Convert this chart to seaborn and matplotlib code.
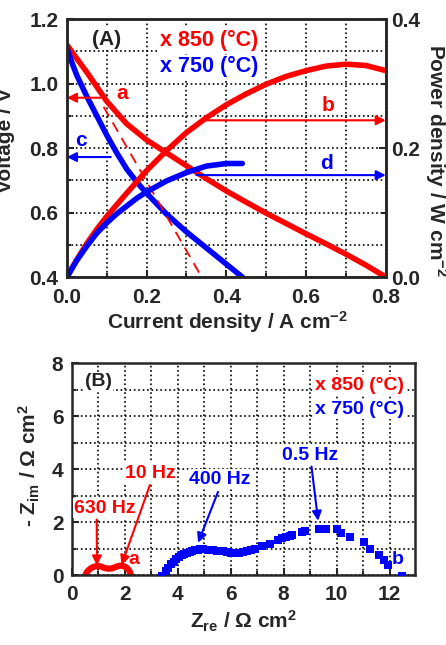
import matplotlib
matplotlib.use('Agg')
import matplotlib.pyplot as plt
import matplotlib.ticker as mticker
import seaborn as sns

# (A) I-V and power curves
cur_850 = [0.0, 0.025, 0.05, 0.075, 0.1, 0.15, 0.2, 0.25, 0.3, 0.35, 0.4, 0.45, 0.5, 0.55, 0.6, 0.65, 0.7, 0.75, 0.8]
volt_850 = [1.12, 1.077, 1.035, 0.99, 0.945, 0.875, 0.825, 0.785, 0.745, 0.705, 0.667, 0.632, 0.598, 0.566, 0.534, 0.503, 0.471, 0.437, 0.40]
pow_850 = [0.0, 0.027, 0.052, 0.074, 0.094, 0.13, 0.165, 0.196, 0.224, 0.247, 0.267, 0.284, 0.299, 0.311, 0.32, 0.327, 0.33, 0.328, 0.32]

cur_750 = [0.0, 0.0125, 0.025, 0.05, 0.075, 0.1, 0.125, 0.15, 0.175, 0.2, 0.25, 0.3, 0.35, 0.4, 0.44]
volt_750 = [1.11, 1.065, 1.025, 0.96, 0.90, 0.84, 0.785, 0.735, 0.695, 0.66, 0.595, 0.54, 0.49, 0.44, 0.40]
pow_750 = [0.0, 0.013, 0.026, 0.048, 0.068, 0.084, 0.098, 0.11, 0.122, 0.132, 0.149, 0.162, 0.172, 0.176, 0.176]

# dashed tangent to the 850 C curve
tangent_i = [0.092, 0.345]
tangent_v = [0.928, 0.385]

# (B) impedance spectra
zre_850 = [0.5, 0.55, 0.62, 0.7, 0.8, 0.9, 1.0, 1.1, 1.2, 1.3, 1.4, 1.5, 1.6, 1.7, 1.8, 1.9, 2.0, 2.1, 2.18, 2.25]
zim_850 = [-0.05, 0.08, 0.17, 0.24, 0.3, 0.33, 0.34, 0.32, 0.28, 0.25, 0.24, 0.25, 0.28, 0.32, 0.35, 0.35, 0.32, 0.25, 0.14, -0.05]

zre_750 = [3.42, 3.55, 3.65, 3.75, 3.85, 3.95, 4.05, 4.15, 4.25, 4.35, 4.45, 4.55, 4.65, 4.75, 4.85, 4.95,
           5.15, 5.35, 5.5, 5.7, 5.85, 6.0, 6.1, 6.2, 6.3, 6.45, 6.6, 6.75, 6.9, 7.2, 7.5, 7.8, 7.95, 8.1,
           8.25, 8.3, 8.7, 8.8, 9.35, 9.6, 10.0, 10.15, 10.5, 11.05, 11.25, 11.6, 11.8, 11.95, 12.45]
zim_750 = [-0.03, 0.15, 0.28, 0.4, 0.5, 0.6, 0.68, 0.75, 0.8, 0.85, 0.88, 0.91, 0.93, 0.95, 0.98, 1.0,
           0.95, 0.93, 0.92, 0.91, 0.88, 0.85, 0.83, 0.82, 0.83, 0.86, 0.9, 0.94, 0.98, 1.08, 1.18, 1.32, 1.4, 1.45,
           1.48, 1.5, 1.62, 1.68, 1.73, 1.73, 1.73, 1.6, 1.44, 1.25, 1.0, 0.76, 0.57, 0.38, -0.03]

sns.set_style('ticks')
plt.rcParams['font.family'] = ['Liberation Sans', 'DejaVu Sans']
plt.rcParams['font.weight'] = 'bold'
plt.rcParams['mathtext.fontset'] = 'custom'
plt.rcParams['mathtext.rm'] = 'Liberation Sans:bold'
plt.rcParams['mathtext.it'] = 'Liberation Sans:bold'
plt.rcParams['mathtext.bf'] = 'Liberation Sans:bold'

RED = '#ff0000'
BLUE = '#0000ff'
FS = 15
box = dict(facecolor='white', edgecolor='none', pad=1)

fig = plt.figure(figsize=(4.46, 6.45), dpi=100)
ax = fig.add_axes([0.150, 0.5705, 0.715, 0.400])
ax2 = ax.twinx()

# ---------- panel A ----------
sns.lineplot(x=cur_850, y=volt_850, ax=ax, color=RED, lw=4)
sns.lineplot(x=cur_750, y=volt_750, ax=ax, color=BLUE, lw=4)
sns.lineplot(x=tangent_i, y=tangent_v, ax=ax, color=RED, lw=1.3, linestyle=(0, (6, 4)))
sns.lineplot(x=cur_850, y=pow_850, ax=ax2, color=RED, lw=4)
sns.lineplot(x=cur_750, y=pow_750, ax=ax2, color=BLUE, lw=4)

ax.set_xlim(0, 0.8)
ax.set_ylim(0.4, 1.2)
ax2.set_ylim(0, 0.4)
ax.xaxis.set_major_locator(mticker.MultipleLocator(0.2))
ax.xaxis.set_minor_locator(mticker.MultipleLocator(0.1))
ax.yaxis.set_major_locator(mticker.MultipleLocator(0.2))
ax.yaxis.set_minor_locator(mticker.MultipleLocator(0.1))
ax2.yaxis.set_major_locator(mticker.MultipleLocator(0.2))
ax2.yaxis.set_minor_locator(mticker.MultipleLocator(0.1))
ax.xaxis.set_major_formatter(mticker.FormatStrFormatter('%.1f'))
ax.yaxis.set_major_formatter(mticker.FormatStrFormatter('%.1f'))
ax2.yaxis.set_major_formatter(mticker.FormatStrFormatter('%.1f'))
ax.grid(True, which='both', color='black', linestyle=':', lw=1.2)
ax2.grid(False)

arrow = lambda c: dict(arrowstyle='-|>', color=c, lw=1.5, mutation_scale=14, shrinkA=0, shrinkB=0)
ax.annotate('', xy=(0.0, 0.956), xytext=(0.085, 0.956), arrowprops=arrow(RED))
ax.annotate('', xy=(0.8, 0.886), xytext=(0.35, 0.886), arrowprops=arrow(RED))
ax.annotate('', xy=(0.0, 0.772), xytext=(0.11, 0.772), arrowprops=arrow(BLUE))
ax.annotate('', xy=(0.8, 0.716), xytext=(0.325, 0.716), arrowprops=arrow(BLUE))
ax.text(0.138, 0.969, 'a', color=RED, fontsize=15, ha='center', va='center')
ax.text(0.655, 0.933, 'b', color=RED, fontsize=15, ha='center', va='center')
ax.text(0.034, 0.824, 'c', color=BLUE, fontsize=15, ha='center', va='center')
ax.text(0.651, 0.752, 'd', color=BLUE, fontsize=15, ha='center', va='center')
ax.text(0.1, 1.137, '(A)', color='#222222', fontsize=15, ha='center', va='center', bbox=box, zorder=3)
ax.text(0.233, 1.135, 'x 850 (°C)', color=RED, fontsize=15.5, ha='left', va='center', bbox=box, zorder=3)
ax.text(0.233, 1.052, 'x 750 (°C)', color=BLUE, fontsize=15.5, ha='left', va='center', bbox=box, zorder=3)

for a in (ax, ax2):
    a.tick_params(axis='both', which='both', direction='in', labelsize=FS, width=1.5)
    a.tick_params(which='major', length=5)
    a.tick_params(which='minor', length=3)
    for s in a.spines.values():
        s.set_linewidth(1.8)
        s.set_visible(True)
ax.tick_params(axis='x', pad=8)
ax.tick_params(axis='y', pad=6)
ax2.tick_params(axis='y', pad=4)
ax.set_xlabel('')
ax.set_ylabel('')
ax2.set_ylabel('')

fig.text(0.012, 0.783, 'Voltage / V', rotation=90, ha='center', va='center', fontsize=FS)
fig.text(0.978, 0.752, 'Power density / W cm$^{-2}$', rotation=270, ha='center', va='center', fontsize=FS)
fig.text(0.511, 0.500, 'Current density / A cm$^{-2}$', ha='center', va='center', fontsize=FS)

# ---------- panel B ----------
bx = fig.add_axes([0.161, 0.1085, 0.769, 0.3282])
sns.lineplot(x=zre_850, y=zim_850, ax=bx, color=RED, lw=4.5)
sns.scatterplot(x=zre_750, y=zim_750, ax=bx, color=BLUE, marker='s', s=30, linewidth=0, zorder=4)

bx.set_xlim(0, 12.95)
bx.set_ylim(0, 8)
bx.xaxis.set_major_locator(mticker.MultipleLocator(2))
bx.xaxis.set_minor_locator(mticker.MultipleLocator(1))
bx.yaxis.set_major_locator(mticker.MultipleLocator(2))
bx.yaxis.set_minor_locator(mticker.MultipleLocator(1))
bx.grid(True, which='both', color='black', linestyle=':', lw=1.2)
bx.tick_params(axis='both', which='both', direction='in', labelsize=FS, width=1.5)
bx.tick_params(which='major', length=5)
bx.tick_params(which='minor', length=3)
bx.tick_params(axis='x', pad=7)
bx.tick_params(axis='y', pad=6)
for s in bx.spines.values():
    s.set_linewidth(1.8)
    s.set_visible(True)

bx.annotate('', xy=(0.95, 0.36), xytext=(0.94, 2.1), arrowprops=arrow(RED))
bx.annotate('', xy=(1.88, 0.38), xytext=(2.95, 3.4), arrowprops=arrow(RED))
bx.annotate('', xy=(4.77, 1.22), xytext=(5.52, 3.14), arrowprops=arrow(BLUE))
bx.annotate('', xy=(9.3, 2.05), xytext=(9.05, 4.1), arrowprops=arrow(BLUE))
bx.text(1.26, 2.53, '630 Hz', color=RED, fontsize=14, ha='center', va='center', bbox=box, zorder=3)
bx.text(2.95, 3.85, '10 Hz', color=RED, fontsize=14, ha='center', va='center', bbox=box, zorder=3)
bx.text(5.6, 3.62, '400 Hz', color=BLUE, fontsize=14, ha='center', va='center', bbox=box, zorder=3)
bx.text(9.0, 4.53, '0.5 Hz', color=BLUE, fontsize=14, ha='center', va='center', bbox=box, zorder=3)
bx.text(2.35, 0.57, 'a', color=RED, fontsize=14, ha='center', va='center')
bx.text(12.32, 0.58, 'b', color=BLUE, fontsize=14, ha='center', va='center')
bx.text(1.0, 7.3, '(B)', color='#222222', fontsize=14, ha='center', va='center', bbox=box, zorder=3)
bx.text(9.17, 7.17, 'x 850 (°C)', color=RED, fontsize=14, ha='left', va='center', bbox=box, zorder=3)
bx.text(9.17, 6.27, 'x 750 (°C)', color=BLUE, fontsize=14, ha='left', va='center', bbox=box, zorder=3)
bx.set_xlabel('')
bx.set_ylabel('')

fig.text(0.067, 0.279, '- Z$_{im}$ / Ω cm$^2$', rotation=90, ha='center', va='center', fontsize=FS)
fig.text(0.545, 0.036, 'Z$_{re}$ / Ω cm$^2$', ha='center', va='center', fontsize=FS)

fig.savefig('out.png', dpi=100)
